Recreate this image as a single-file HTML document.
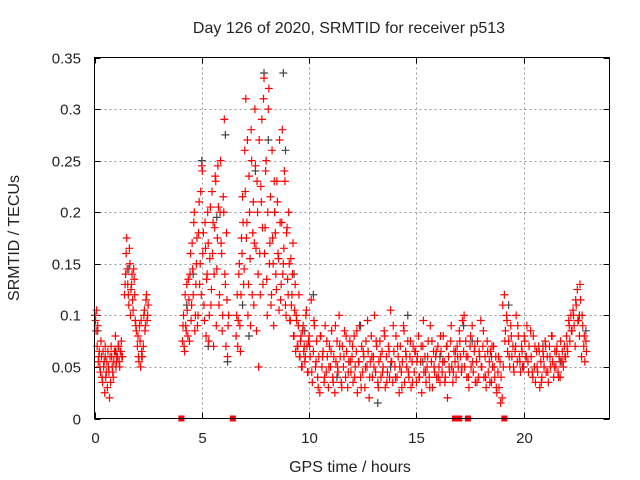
<!DOCTYPE html>
<html><head><meta charset="utf-8"><style>
body{margin:0;background:#fff}
svg{display:block;font-family:"Liberation Sans",sans-serif}
</style></head><body>
<svg id="chart" width="640" height="480">
<text x="349" y="33" text-anchor="middle" font-size="16" fill="#222">Day 126 of 2020, SRMTID for receiver p513</text>
<text x="350" y="472" text-anchor="middle" font-size="16" fill="#222">GPS time / hours</text>
<text transform="translate(19,238) rotate(-90)" text-anchor="middle" font-size="16" fill="#222">SRMTID / TECUs</text>
<g id="grid"></g>
<g id="marks"></g>
<rect x="94.5" y="57.5" width="515" height="361" fill="none" stroke="#000"/>
</svg>
<script>
const xTicks=[0,5,10,15,20];
const yTicks=[0,0.05,0.1,0.15,0.2,0.25,0.3,0.35];
const yTickLabels=["0","0.05","0.1","0.15","0.2","0.25","0.3","0.35"];
const gapT=[4.05,6.45,16.8,17.0,17.4,19.1];
const redT=[0.05,0.1,0.15,0.2,0.25,0.3,0.35,0.4,0.45,0.5,0.55,0.6,0.65,0.7,0.75,0.8,0.85,0.9,0.95,1.0,1.05,1.1,1.15,1.2,1.25,1.3,
1.4,1.45,1.5,1.55,1.6,1.65,1.7,1.75,1.8,1.85,1.9,1.95,2.0,2.05,2.1,2.15,2.2,2.3,2.35,2.4,2.45,2.5,
4.1,4.15,4.2,4.25,4.3,4.35,4.4,4.45,4.5,4.55,4.6,4.65,4.7,4.75,4.8,4.85,4.9,4.95,5.0,5.05,5.1,5.15,5.2,5.25,5.3,5.35,5.4,5.45,5.5,5.55,5.6,5.65,5.7,5.75,5.8,5.85,5.9,5.95,6.0,6.05,6.1,6.15,6.2,6.25,
6.6,6.65,6.7,6.75,6.8,6.85,6.9,6.95,7.0,7.05,7.1,7.15,7.2,7.25,7.3,7.35,7.4,7.45,7.5,7.55,7.6,7.65,7.7,7.75,7.8,7.85,7.9,7.95,8.0,8.05,8.1,8.15,8.2,8.25,8.3,8.35,8.4,8.45,8.5,8.55,8.6,8.65,8.7,8.75,8.8,8.85,8.9,8.95,9.0,9.05,9.1,9.15,9.2,9.25,9.3,9.35,9.4,9.45,9.5,9.55,9.6,9.65,9.7,9.75,9.8,9.85,9.9,9.95,
10.0,10.05,10.1,10.15,10.2,10.25,10.3,10.35,10.4,10.45,10.5,10.55,10.6,10.65,10.7,10.75,10.8,10.85,10.9,10.95,11.0,11.05,11.1,11.15,11.2,11.25,11.3,11.35,11.4,11.45,11.5,11.55,11.6,11.65,11.7,11.75,11.8,11.85,11.9,11.95,
12.0,12.05,12.1,12.15,12.2,12.25,12.3,12.35,12.4,12.45,12.5,12.55,12.6,12.65,12.7,12.75,12.8,12.85,12.9,12.95,13.0,13.05,13.1,13.15,13.2,13.25,13.3,13.35,13.4,13.45,13.5,13.55,13.6,13.65,13.7,13.75,13.8,13.85,13.9,13.95,
14.0,14.05,14.1,14.15,14.2,14.25,14.3,14.35,14.4,14.45,14.5,14.55,14.6,14.65,14.7,14.75,14.8,14.85,14.9,14.95,15.0,15.05,15.1,15.15,15.2,15.25,15.3,15.35,15.4,15.45,15.5,15.55,15.6,15.65,15.7,15.75,15.8,15.85,15.9,15.95,
16.0,16.05,16.1,16.15,16.2,16.25,16.3,16.35,16.4,16.45,16.5,16.55,16.6,16.65,16.7,16.75,16.8,16.85,16.9,16.95,17.0,17.05,17.1,17.15,17.2,17.25,17.3,17.35,17.4,17.45,17.5,17.55,17.6,17.65,17.7,17.75,17.8,17.85,17.9,17.95,
18.0,18.05,18.1,18.15,18.2,18.25,18.3,18.35,18.4,18.45,18.5,18.55,18.6,18.65,18.7,18.75,18.8,18.85,18.9,18.95,19.0,19.05,19.1,19.15,19.2,19.25,19.3,19.35,19.4,19.45,19.5,19.55,19.6,19.65,19.7,19.75,19.8,19.85,19.9,19.95,
20.05,20.1,20.15,20.2,20.25,20.35,20.4,20.45,20.5,20.55,20.6,20.65,20.7,20.75,20.8,20.85,20.9,20.95,21.0,21.05,21.1,21.15,21.2,21.25,21.3,21.35,21.4,21.45,21.5,21.55,21.6,21.65,21.7,21.75,21.8,21.85,21.9,21.95,
22.0,22.05,22.1,22.15,22.2,22.25,22.3,22.35,22.4,22.45,22.5,22.55,22.6,22.65,22.7,22.75,22.8,22.85,22.9];
const redV=[.095,.105,.09,.06,.05,.075,.04,.065,.055,.07,.045,.03,.05,.02,.035,.06,.045,.055,.065,.05,.06,.07,.055,.065,.075,.06,
.12,.14,.175,.13,.11,.15,.125,.14,.105,.135,.095,.085,.07,.06,.09,.05,.065,.1,.085,.115,.095,.11,
.075,.1,.065,.09,.13,.08,.115,.14,.095,.17,.12,.2,.1,.15,.09,.18,.13,.22,.245,.16,.11,.19,.08,.14,.17,.1,.205,.125,.16,.07,.185,.23,.145,.245,.11,.2,.17,.085,.215,.29,.13,.18,.06,.1,
.08,.12,.095,.15,.065,.175,.215,.13,.26,.31,.19,.1,.235,.155,.28,.12,.21,.17,.245,.085,.2,.05,.16,.225,.29,.13,.33,.185,.25,.1,.3,.15,.215,.12,.175,.09,.2,.14,.23,.16,.105,.19,.13,.28,.15,.24,.11,.18,.135,.2,.095,.155,.12,.17,.08,.13,.1,.07,.09,.06,.075,.05,.085,.065,.055,.1,.07,.045,
.08,.06,.115,.035,.065,.09,.05,.075,.04,.06,.025,.08,.05,.065,.035,.09,.045,.06,.03,.07,.05,.085,.04,.06,.025,.055,.075,.045,.1,.06,.035,.07,.05,.085,.04,.065,.03,.055,.075,.045,
.06,.035,.08,.05,.065,.025,.055,.09,.04,.07,.045,.06,.03,.075,.05,.065,.02,.055,.08,.04,.06,.1,.045,.07,.035,.055,.075,.04,.065,.05,.085,.03,.06,.045,.07,.04,.105,.055,.035,.065,
.05,.08,.04,.06,.025,.07,.045,.055,.09,.035,.065,.05,.075,.04,.06,.03,.055,.07,.045,.065,.035,.06,.08,.04,.055,.025,.07,.045,.06,.035,.05,.075,.04,.09,.055,.03,.065,.045,.06,.04,
.07,.05,.035,.065,.045,.08,.055,.04,.07,.02,.06,.045,.075,.05,.035,.065,.055,.04,.07,.05,.085,.06,.045,.095,.065,.05,.075,.04,.06,.03,.07,.05,.09,.045,.065,.035,.055,.075,.04,.06,
.095,.05,.07,.04,.06,.03,.075,.045,.055,.065,.035,.05,.07,.04,.06,.025,.045,.03,.055,.04,.02,.05,.12,.085,.1,.065,.075,.05,.09,.06,.07,.045,.065,.1,.055,.08,.06,.045,.07,.05,
.075,.06,.09,.055,.07,.06,.045,.08,.05,.035,.065,.045,.07,.03,.055,.04,.065,.05,.075,.045,.06,.035,.07,.05,.08,.055,.04,.065,.05,.07,.045,.06,.04,.055,.065,.05,.07,.06,
.08,.065,.095,.075,.1,.085,.105,.09,.07,.11,.125,.095,.08,.115,.06,.09,.07,.055,.075];
const red2T=[0.025,0.075,0.125,0.175,0.225,0.275,0.325,0.375,0.425,0.475,0.525,0.575,0.625,0.675,0.725,0.775,0.825,0.875,0.925,0.975,1.025,1.075,1.125,1.175,1.225,1.275,
1.425,1.475,1.525,1.575,1.625,1.675,1.725,1.775,1.825,1.875,1.925,
2.025,2.075,2.125,2.175,2.225,2.275,2.325,2.375,2.425,2.475,
4.125,4.175,4.225,4.275,4.325,4.375,4.425,4.475,4.525,4.575,4.625,4.675,4.725,4.775,4.825,4.875,4.925,4.975,5.025,5.075,5.125,5.175,5.225,5.275,5.325,5.375,5.425,5.475,5.525,5.575,5.625,5.675,5.725,5.775,5.825,5.875,5.925,5.975,6.025,6.075,6.125,6.175,6.225,
6.625,6.675,6.725,6.775,6.825,6.875,6.925,6.975,7.025,7.075,7.125,7.175,7.225,7.275,7.325,7.375,7.425,7.475,7.525,7.575,7.625,7.675,7.725,7.775,7.825,7.875,7.925,7.975,8.025,8.075,8.125,8.175,8.225,8.275,8.325,8.375,8.425,8.475,8.525,8.575,8.625,8.675,8.725,8.775,8.825,8.875,8.925,8.975,9.025,9.075,9.125,9.175,9.225,9.275,9.325,9.375,9.425,9.475,9.525,9.575,9.625,9.675,9.725,9.775,9.825,9.875,9.925,9.975,
10.025,10.125,10.225,10.325,10.425,10.525,10.625,10.725,10.825,10.925,
11.025,11.125,11.225,11.325,11.425,11.525,11.625,11.725,11.825,11.925,
12.025,12.125,12.225,12.325,12.425,12.525,12.625,12.725,12.825,12.925,
13.025,13.125,13.225,13.325,13.425,13.525,13.625,13.725,13.825,13.925,
14.025,14.125,14.225,14.325,14.425,14.525,14.625,14.725,14.825,14.925,
15.025,15.125,15.225,15.325,15.425,15.525,15.625,15.725,15.825,15.925,
16.025,16.125,16.225,16.325,16.425,16.525,16.625,16.725,16.825,16.925,
17.025,17.125,17.225,17.325,17.425,17.525,17.625,17.725,17.825,17.925,
18.025,18.125,18.225,18.325,18.425,18.525,18.625,18.725,18.825,18.925,
19.025,19.125,19.225,19.325,19.425,19.525,19.625,19.725,19.825,19.925,
20.025,20.125,20.225,20.325,20.425,20.525,20.625,20.725,20.825,20.925,
21.025,21.125,21.225,21.325,21.425,21.525,21.625,21.725,21.825,21.925,
22.025,22.125,22.225,22.325,22.425,22.525,22.625,22.725,22.825,22.925];
const red2V=[.1,.085,.07,.055,.065,.045,.06,.035,.05,.025,.04,.055,.065,.045,.06,.07,.05,.04,.065,.08,.055,.06,.07,.05,.065,.06,
.13,.16,.145,.12,.165,.1,.13,.115,.145,.12,.09,
.08,.055,.075,.095,.06,.07,.105,.09,.12,.1,
.09,.07,.12,.085,.105,.135,.075,.16,.11,.145,.19,.085,.13,.175,.1,.21,.15,.12,.24,.18,.095,.165,.135,.2,.075,.155,.11,.22,.19,.14,.235,.09,.175,.205,.12,.25,.16,.1,.2,.14,.07,.115,.09,
.1,.07,.14,.09,.12,.16,.19,.145,.22,.175,.27,.13,.2,.09,.25,.18,.11,.3,.165,.23,.14,.27,.12,.21,.185,.31,.16,.24,.135,.2,.32,.17,.11,.26,.15,.23,.18,.125,.21,.155,.27,.115,.19,.14,.165,.23,.1,.185,.12,.15,.095,.11,.14,.08,.105,.065,.095,.07,.12,.06,.08,.05,.09,.07,.06,.105,.045,.075,
.07,.045,.095,.055,.03,.08,.06,.04,.075,.05,
.065,.035,.09,.05,.07,.03,.06,.08,.045,.055,
.07,.04,.085,.055,.03,.065,.05,.095,.04,.06,
.05,.075,.03,.06,.045,.08,.035,.065,.055,.09,
.04,.07,.05,.03,.085,.06,.045,.075,.035,.065,
.055,.04,.07,.095,.045,.06,.03,.075,.05,.065,
.04,.08,.055,.035,.07,.05,.09,.045,.065,.06,
.075,.05,.1,.06,.04,.08,.055,.07,.035,.065,
.05,.085,.04,.065,.035,.07,.05,.03,.06,.015,
.11,.075,.095,.06,.08,.05,.07,.09,.055,.065,
.08,.06,.045,.085,.04,.07,.05,.065,.035,.06,
.07,.045,.06,.08,.05,.065,.04,.075,.055,.06,
.07,.09,.085,.1,.115,.095,.13,.1,.08,.065];
const grayT=[0.15,0.5,1.0,1.6,2.2,4.3,4.6,5.0,5.3,5.7,6.1,6.2,6.9,7.2,7.5,7.9,8.1,8.4,8.8,8.9,9.3,9.8,10.2,11.3,12.4,13.2,13.8,14.6,15.3,16.1,17.2,17.6,18.5,19.3,20.0,20.9,21.7,22.6,22.9];
const grayV=[.085,.06,.065,.145,.06,.11,.14,.25,.07,.195,.275,.055,.11,.08,.24,.335,.27,.2,.335,.26,.14,.085,.12,.04,.09,.015,.05,.1,.055,.06,.09,.075,.06,.11,.05,.07,.055,.1,.085];

const NS='http://www.w3.org/2000/svg';
const X0=94.5,X1=609.5,Y0=418.5,Y1=57.5;
function xs(t){return X0+(t-0)/(24-0)*(X1-X0);}
function ys(v){return Y0-(v-0)/(0.35-0)*(Y0-Y1);}
const grid=document.getElementById('grid'),marks=document.getElementById('marks'),svg=document.getElementById('chart');
function mk(tag,attrs,parent){const e=document.createElementNS(NS,tag);for(const k in attrs)e.setAttribute(k,attrs[k]);parent.appendChild(e);return e;}
yTicks.forEach((v,i)=>{
  const y=Math.round(ys(v))+0.5;
  if(i>0&&i<yTicks.length-1){const g=mk('line',{x1:X0,x2:X1,y1:y,y2:y,stroke:'#999','stroke-dasharray':'2,3'},grid);
  
  }
  const t1=mk('line',{x1:X0,x2:X0+6,y1:y,y2:y,stroke:'#000'},grid);
  
  
  const t2=mk('line',{x1:X1-6,x2:X1,y1:y,y2:y,stroke:'#000'},grid);
  
  
  const l=mk('text',{x:81,y:y+5,'text-anchor':'end','font-size':'15',fill:'#222'},svg);
  l.textContent=yTickLabels[i];
  
  
});
xTicks.forEach(t=>{
  const x=Math.round(xs(t))+0.5;
  if(t>0){const g=mk('line',{x1:x,x2:x,y1:Y1,y2:Y0,stroke:'#999','stroke-dasharray':'2,3'},grid);
  
  }
  const t1=mk('line',{x1:x,x2:x,y1:Y0-6,y2:Y0,stroke:'#000'},grid);
  
  
  const t2=mk('line',{x1:x,x2:x,y1:Y1,y2:Y1+6,stroke:'#000'},grid);
  
  
  const l=mk('text',{x:x,y:443,'text-anchor':'middle','font-size':'15',fill:'#222'},svg);
  l.textContent=String(t);
  
  
});
function cross(t,v,color,name){
  const x=xs(t),y=ys(v);
  const p=mk('path',{d:`M${x-4},${y}H${x+4}M${x},${y-4}V${y+4}`,stroke:color,'stroke-width':'1.2',fill:'none'},marks);
  
  
}
grayT.forEach((t,i)=>cross(t,grayV[i],'#444','gray-point'));
redT.forEach((t,i)=>cross(t,redV[i],'#f00','red-point'));
red2T.forEach((t,i)=>cross(t,red2V[i],'#f00','red-point'));
gapT.forEach(t=>{
  const r=mk('rect',{x:xs(t)-3,y:Y0-3,width:6,height:6,fill:'#f00'},marks);
  
  
});
</script>
</body></html>
